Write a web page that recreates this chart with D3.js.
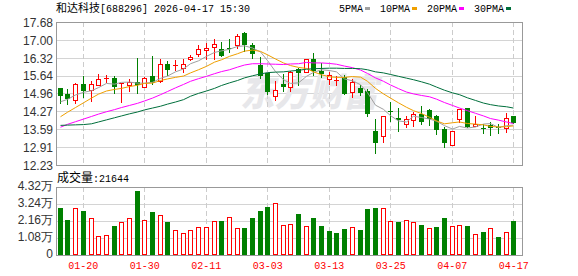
<!DOCTYPE html>
<html><head><meta charset="utf-8">
<script src="https://cdn.jsdelivr.net/npm/d3@7"></script>
<style>html,body{margin:0;padding:0;background:#fff;}svg{display:block}</style>
</head><body><svg id="c" width="578" height="276"></svg>
<script>
const dates = ["01-15","01-16","01-19","01-20","01-21","01-22","01-23","01-26","01-27","01-28","01-29","01-30",
"02-02","02-03","02-04","02-05","02-06","02-09","02-10","02-11","02-12","02-13","02-24","02-25","02-26","02-27",
"03-02","03-03","03-04","03-05","03-06","03-09","03-10","03-11","03-12","03-13","03-16","03-17","03-18","03-19",
"03-20","03-23","03-24","03-25","03-26","03-27","03-30","03-31","04-01","04-02","04-03","04-07","04-08","04-09",
"04-10","04-13","04-14","04-15","04-16","04-17"];
const open  = [15.15,14.94,14.71,15.32,15.10,15.27,15.50,15.54,15.33,15.27,15.39,15.21,15.62,15.44,16.08,16.04,15.93,16.26,16.45,16.60,
16.72,16.65,16.69,16.79,17.25,16.80,16.04,15.72,14.87,15.32,15.21,15.88,15.79,16.26,15.82,15.50,15.45,15.57,15.00,15.16,
15.06,13.53,13.32,14.30,14.03,13.79,13.95,14.16,14.33,14.10,13.59,12.99,13.99,14.39,13.72,13.64,13.75,13.66,13.63,14.10];
const high  = [15.16,15.12,15.37,15.62,15.44,15.70,15.66,15.62,15.36,15.51,16.30,15.60,16.38,16.26,16.19,16.23,16.28,16.42,16.80,16.89,
17.02,16.91,17.03,17.22,17.28,16.89,16.33,15.72,15.43,15.70,15.82,15.94,16.27,16.50,16.13,15.79,15.62,15.66,15.50,15.28,
15.12,13.97,14.11,14.64,14.39,14.10,14.26,14.48,14.36,14.12,13.69,13.53,14.36,14.40,14.10,13.79,13.88,13.78,14.20,14.10];
const low   = [14.61,14.56,14.61,14.83,14.68,15.27,15.39,14.96,14.64,15.04,14.96,15.21,15.32,15.39,15.66,15.85,15.76,16.22,16.38,16.26,
16.26,16.40,16.55,16.70,16.59,16.30,15.53,14.94,14.71,15.06,15.06,15.28,15.78,15.66,15.60,15.30,15.28,14.94,14.81,14.90,
14.11,12.70,13.10,13.91,13.54,13.67,13.72,13.79,13.77,13.41,12.93,12.99,13.88,13.66,13.72,13.44,13.37,13.46,13.50,13.84];
const close = [14.86,14.75,15.32,15.04,15.31,15.50,15.53,15.19,15.35,15.39,15.28,15.53,15.37,16.08,15.85,16.05,16.08,16.35,16.64,16.69,
16.84,16.40,16.65,17.15,16.80,16.46,15.63,15.00,15.08,15.21,15.79,15.72,16.26,15.82,15.69,15.66,15.47,14.94,15.41,14.96,
14.17,13.08,14.11,14.24,13.95,13.97,14.16,13.86,13.97,13.56,13.08,13.53,14.36,13.67,13.78,13.62,13.64,13.63,14.04,13.84];
const volume = [29900,22100,30100,27800,23800,12000,12400,18300,20700,23800,40500,22100,27200,25700,20900,15600,13900,15600,18100,17700,
21300,21500,24400,17300,17300,23600,27800,30300,33300,19000,19400,25900,18300,23600,18300,15200,13900,16400,17700,15800,
29100,29700,29700,21500,20900,22100,20900,19000,17100,17700,23600,18300,19000,18300,13300,14500,17100,11400,14500,21644];
const ma5  = [14.64,14.73,14.90,15.00,15.06,15.18,15.34,15.31,15.38,15.39,15.35,15.35,15.38,15.53,15.62,15.78,15.89,16.09,16.20,16.37,
16.52,16.58,16.64,16.75,16.77,16.69,16.54,16.21,15.79,15.48,15.34,15.36,15.61,15.76,15.86,15.83,15.78,15.51,15.44,15.29,
14.99,14.51,14.35,14.11,13.91,13.87,14.09,14.04,13.98,13.90,13.73,13.60,13.70,13.64,13.68,13.79,13.81,13.66,13.73,13.75];
const ma10 = [14.07,14.24,14.42,14.60,14.78,14.93,15.05,15.11,15.15,15.22,15.27,15.34,15.35,15.45,15.51,15.57,15.62,15.74,15.86,15.99,
16.15,16.24,16.37,16.47,16.57,16.61,16.56,16.43,16.27,16.12,16.02,15.95,15.91,15.78,15.67,15.59,15.57,15.57,15.60,15.58,
15.42,15.15,14.94,14.78,14.60,14.43,14.30,14.19,14.05,13.91,13.80,13.84,13.87,13.81,13.79,13.76,13.70,13.68,13.69,13.72];
const ma20 = [13.67,13.78,13.88,13.98,14.08,14.17,14.26,14.34,14.42,14.50,14.58,14.67,14.78,14.91,15.03,15.17,15.30,15.42,15.52,15.61,
15.71,15.79,15.86,15.96,16.04,16.09,16.09,16.08,16.07,16.06,16.08,16.09,16.14,16.12,16.12,16.10,16.07,16.00,15.94,15.85,
15.72,15.55,15.42,15.28,15.14,15.01,14.94,14.88,14.83,14.74,14.61,14.50,14.40,14.30,14.20,14.10,14.00,13.94,13.87,13.81];
const ma30 = [13.74,13.75,13.76,13.77,13.80,13.87,13.95,14.03,14.10,14.18,14.25,14.33,14.40,14.47,14.55,14.63,14.72,14.85,14.96,15.05,
15.15,15.26,15.36,15.45,15.55,15.63,15.70,15.75,15.77,15.78,15.81,15.84,15.88,15.90,15.91,15.92,15.92,15.91,15.91,15.90,
15.86,15.78,15.74,15.68,15.61,15.54,15.48,15.40,15.31,15.20,15.08,14.98,14.91,14.79,14.69,14.59,14.53,14.48,14.45,14.40];
const priceTicks = [17.68,17.00,16.32,15.64,14.96,14.27,13.59,12.91,12.23];
const volTicks = [0,10800,21600,32400,43200];
const volTickLabels = ["0","1.08万","2.16万","3.24万","4.32万"];
const dateTicks = ["01-20","01-30","02-11","03-03","03-13","03-25","04-07","04-17"];
const legendNames = ["5PMA","10PMA","20PMA","30PMA"];
const titleName = "和达科技", titleRest = "[688296] 2026-04-17 15:30";
const volLabelName = "成交量", volLabelValue = ":21644";

const C = {up:"#ff0000", down:"#008000", grid:"#d4d4d4", border:"#999999", dash:"#cccccc",
  ma:["#a0a0a0","#f0a000","#ff00ff","#006f3c"], axis:"#333333"};
const MONO = "'Liberation Mono','DejaVu Sans Mono',monospace";
const CJK = "'Noto Sans CJK SC',sans-serif";

const svg = d3.select("#c");
const L=56, R=522, PT=22, PB=165, VT=187, VB=255;
const x = d3.scaleBand().domain(dates).range([56.46, 517.62]);
const cx = d => Math.round(x(d) + x.bandwidth()/2 - 0.5) + 0.5;
const y = d3.scaleLinear().domain([12.23, 17.68]).range([PB, PT]);
const yv = d3.scaleLinear().domain([0, 43200]).range([VB, VT]);
const snap = v => Math.round(v) + 0.5;

// gridlines
svg.append("g").selectAll("line").data(priceTicks.slice(1,-1)).join("line")
  .attr("x1",L).attr("x2",R).attr("y1",d=>snap(y(d))).attr("y2",d=>snap(y(d)))
  .attr("stroke",C.grid);
svg.append("g").selectAll("line").data(volTicks.slice(1,-1)).join("line")
  .attr("x1",L).attr("x2",R).attr("y1",d=>snap(yv(d))).attr("y2",d=>snap(yv(d)))
  .attr("stroke",C.grid);

// watermark
svg.append("text").attr("x",240).attr("y",106).text("东方财富")
  .attr("font-family",CJK).attr("font-weight",900).attr("font-size",38)
  .attr("font-style","italic").attr("fill","#e7e7ea")
  .attr("textLength",138).attr("lengthAdjust","spacingAndGlyphs");

// dashed verticals
[[PT,PB],[VT,VB]].forEach(([a,b])=>{
  svg.append("g").selectAll("line").data(dateTicks).join("line")
    .attr("x1",cx).attr("x2",cx).attr("y1",a).attr("y2",b)
    .attr("stroke",C.dash).attr("stroke-dasharray","5,3");
});

// borders
svg.append("rect").attr("x",L+0.5).attr("y",PT+0.5).attr("width",R-L).attr("height",PB-PT)
  .attr("fill","none").attr("stroke",C.border);
svg.append("rect").attr("x",L+0.5).attr("y",VT+0.5).attr("width",R-L).attr("height",VB-VT)
  .attr("fill","none").attr("stroke",C.border);

// candles
const idx = d3.range(dates.length);
const cg = svg.append("g");
idx.forEach(i=>{
  const d = dates[i], px = cx(d), up = close[i] >= open[i];
  const col = up ? C.up : C.down;
  cg.append("line").attr("x1",px).attr("x2",px)
    .attr("y1",Math.round(y(high[i]))).attr("y2",Math.round(y(low[i]))+1)
    .attr("stroke",col);
  const top = Math.round(y(Math.max(open[i],close[i])));
  const bot = Math.round(y(Math.min(open[i],close[i])));
  if (up) {
    const h = Math.max(bot-top,0);
    if (h < 2) cg.append("rect").attr("x",px-2.5).attr("y",top).attr("width",5).attr("height",1).attr("fill",col);
    else cg.append("rect").attr("x",px-2).attr("y",top+0.5).attr("width",4).attr("height",h)
      .attr("fill","#fff").attr("stroke",col);
  } else {
    cg.append("rect").attr("x",px-2.5).attr("y",top).attr("width",5).attr("height",Math.max(bot-top,1))
      .attr("fill",col);
  }
});

// MA lines
[ma5,ma10,ma20,ma30].forEach((arr,k)=>{
  const line = d3.line().x((v,i)=>cx(dates[i])).y(v=>y(v));
  svg.append("path").attr("d",line(arr)).attr("fill","none")
    .attr("stroke",C.ma[k]).attr("stroke-width",1);
});

// volume bars
const vg = svg.append("g");
idx.forEach(i=>{
  const px = cx(dates[i]);
  const up = i===0 ? close[i]>=open[i] : close[i] > close[i-1];
  const t = Math.round(yv(volume[i]));
  if (up) vg.append("rect").attr("x",px-2).attr("y",t+0.5).attr("width",4).attr("height",VB-t-1)
      .attr("fill","#fff").attr("stroke",C.up);
  else vg.append("rect").attr("x",px-2.5).attr("y",t).attr("width",5).attr("height",VB-t)
      .attr("fill",C.down);
});

// axes
const ay = svg.append("g").attr("transform",`translate(${L},0)`)
  .call(d3.axisLeft(y).tickValues(priceTicks).tickFormat(d3.format(".2f")).tickSize(0).tickPadding(3));
ay.select(".domain").remove();
ay.selectAll("text").attr("dy","0.36em").attr("fill",C.axis)
  .attr("font-family","'Liberation Sans',Arial,sans-serif").attr("font-size",12);

const av = svg.append("g").attr("transform",`translate(${L},0)`)
  .call(d3.axisLeft(yv).tickValues(volTicks).tickFormat((d,i)=>volTickLabels[i]).tickSize(0).tickPadding(3));
av.select(".domain").remove();
av.selectAll("text").attr("dy","0.24em").attr("fill",C.axis)
  .attr("font-family","'Liberation Sans',Arial,sans-serif").attr("font-size",12);

const ax = svg.append("g").attr("transform",`translate(0,${VB})`)
  .call(d3.axisBottom(x).tickValues(dateTicks).tickSize(0));
ax.select(".domain").remove();
ax.selectAll("text").attr("y",14).attr("dy",0).attr("fill",C.up)
  .attr("font-family",MONO).attr("font-size",10);

// title
const tt = svg.append("text").attr("x",56).attr("y",12).attr("fill","#000");
tt.append("tspan").attr("font-family",CJK).attr("font-size",11).text(titleName);
tt.append("tspan").attr("font-family",MONO).attr("font-size",10).text(titleRest);

// volume label
const vl = svg.append("text").attr("x",57).attr("y",182).attr("fill","#000");
vl.append("tspan").attr("font-family",CJK).attr("font-size",12).text(volLabelName);
vl.append("tspan").attr("font-family",MONO).attr("font-size",10).text(volLabelValue);

// legend
let lx = 339;
legendNames.forEach((n,k)=>{
  const t = svg.append("text").attr("x",lx).attr("y",11.5).attr("font-family",MONO)
    .attr("font-size",10).attr("fill","#000").text(n);
  const w = t.node().getComputedTextLength();
  svg.append("rect").attr("x",Math.round(lx+w+2)).attr("y",7).attr("width",5).attr("height",3)
    .attr("fill",C.ma[k]);
  lx = Math.round(lx+w+2) + 5 + 10;
});
</script></body></html>
